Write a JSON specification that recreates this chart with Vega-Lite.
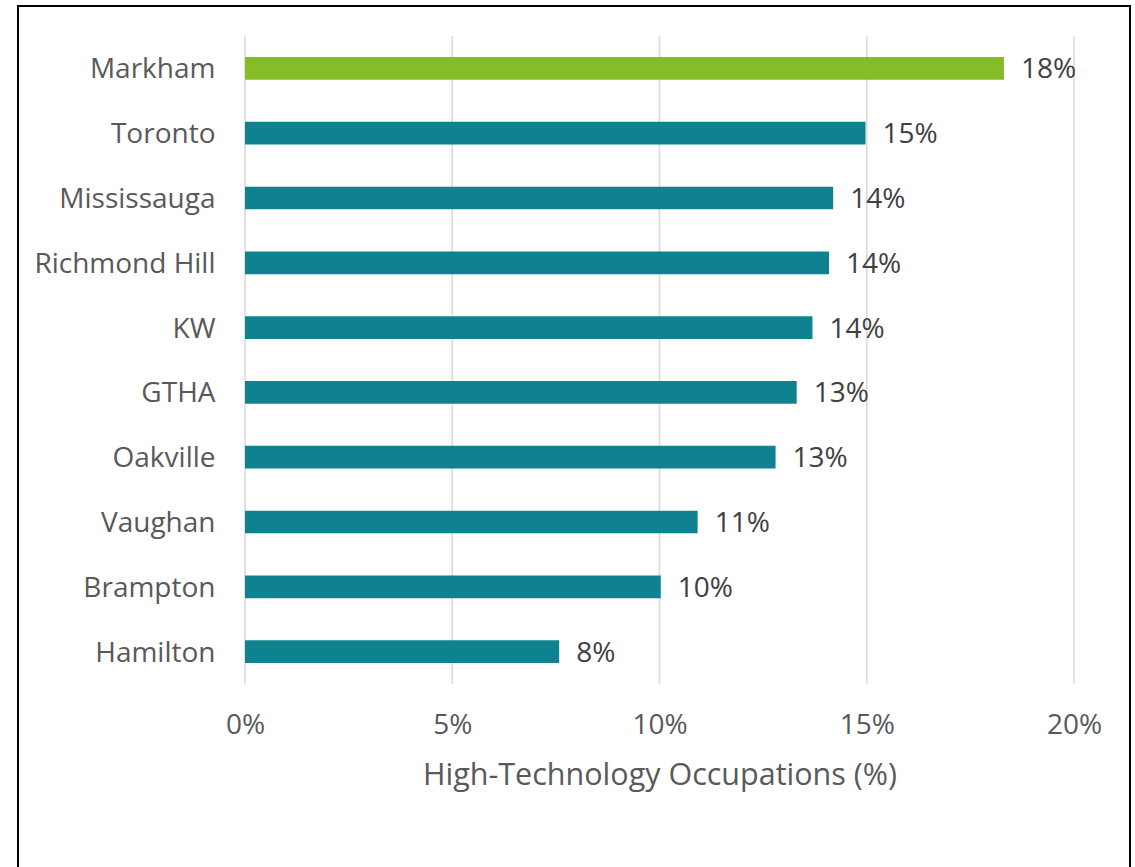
{
  "$schema": "https://vega.github.io/schema/vega-lite/v6.json",
  "width": 1112,
  "height": 870,
  "autosize": {"type": "none"},
  "padding": {"left": 18, "top": 6, "right": 5, "bottom": 0},
  "background": "white",
  "config": {
    "view": {"stroke": "black", "strokeWidth": 2},
    "font": "Open Sans"
  },
  "datasets": {
    "cities": [
      {"city": "Markham", "value": 0.1831},
      {"city": "Toronto", "value": 0.1497},
      {"city": "Mississauga", "value": 0.1419},
      {"city": "Richmond Hill", "value": 0.1409},
      {"city": "KW", "value": 0.1369},
      {"city": "GTHA", "value": 0.1331},
      {"city": "Oakville", "value": 0.1280},
      {"city": "Vaughan", "value": 0.1092},
      {"city": "Brampton", "value": 0.1003},
      {"city": "Hamilton", "value": 0.0758}
    ],
    "grid": [
      {"g": 0}, {"g": 0.05}, {"g": 0.1}, {"g": 0.15}, {"g": 0.2}
    ]
  },
  "layer": [
    {
      "data": {"name": "grid"},
      "mark": {"type": "rule", "color": "#d9d9d9", "strokeWidth": 1.5, "yOffset": -32.4, "y2Offset": 32.4},
      "encoding": {
        "x": {"field": "g", "type": "quantitative"},
        "y": {"datum": "Markham", "type": "nominal"},
        "y2": {"datum": "Hamilton"}
      }
    },
    {
      "data": {"name": "cities"},
      "mark": {"type": "bar"},
      "encoding": {
        "y": {
          "field": "city",
          "type": "nominal",
          "sort": null,
          "scale": {
            "domain": ["Markham", "Toronto", "Mississauga", "Richmond Hill", "KW", "GTHA", "Oakville", "Vaughan", "Brampton", "Hamilton"],
            "range": [30, 678],
            "paddingInner": 0.65, "paddingOuter": 0.325, "round": false
          },
          "axis": {
            "orient": "left",
            "offset": -227,
            "title": null,
            "domain": false,
            "ticks": false,
            "tickSize": 0,
            "grid": false,
            "labelPadding": 30,
            "labelOffset": 2,
            "labelFontSize": 28,
            "labelLimit": 400,
            "labelColor": "#595959",
            "labelFont": "Open Sans"
          }
        },
        "x": {
          "field": "value",
          "type": "quantitative",
          "scale": {"domain": [-0.054765, 0.21351], "nice": false, "zero": false},
          "axis": {
            "orient": "bottom",
            "offset": -192,
            "values": [0, 0.05, 0.1, 0.15, 0.2],
            "format": ".0%",
            "grid": false,
            "domain": false,
            "ticks": false,
            "tickSize": 0,
            "labelPadding": 27,
            "labelFontSize": 28,
            "labelColor": "#595959",
            "labelFont": "Open Sans",
            "title": "High-Technology Occupations (%)",
            "titleFont": "Open Sans",
            "titleFontSize": 30.5,
            "titleFontWeight": "normal",
            "titleColor": "#595959",
            "titleX": 641.5,
            "titleY": 76,
            "titleAnchor": "middle",
            "titleAlign": "center"
          }
        },
        "color": {
          "condition": {"test": "datum.city === 'Markham'", "value": "#86BC25"},
          "value": "#0E838F"
        }
      }
    },
    {
      "data": {"name": "cities"},
      "mark": {"type": "text", "align": "left", "baseline": "middle", "dx": 17, "dy": 2, "fontSize": 28, "color": "#404040", "font": "Open Sans"},
      "encoding": {
        "y": {"field": "city", "type": "nominal", "sort": null},
        "x": {"field": "value", "type": "quantitative"},
        "text": {"field": "value", "type": "quantitative", "format": ".0%"}
      }
    }
  ]
}
